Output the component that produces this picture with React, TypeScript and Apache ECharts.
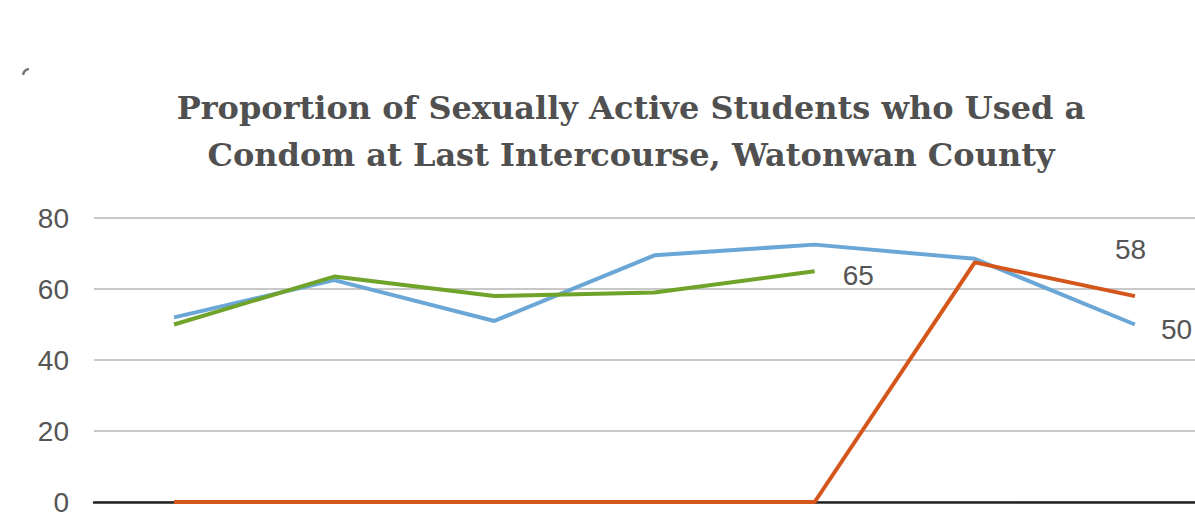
import React, { useEffect, useRef } from "react";
import * as echarts from "echarts";

const categories = ["1998", "2001", "2004", "2007", "2010", "2013", "2016"];
const blueValues = [52, 62.5, 51, 69.5, 72.5, 68.5, 50];
const greenValues: (number | null)[] = [50, 63.5, 58, 59, 65, null, null];
const orangeValues = [0, 0, 0, 0, 0, 67.5, 58];
const yTicks = { min: 0, max: 80, interval: 20 };
const titleLines = [
  "Proportion of Sexually Active Students who Used a",
  "Condom at Last Intercourse, Watonwan County",
];

const labelFont = "Liberation Sans, Arial, sans-serif";

export default function App() {
  const ref = useRef<HTMLDivElement>(null);
  useEffect(() => {
    if (!ref.current) return;
    const chart = echarts.init(ref.current, null, { renderer: "svg" });
    const endLabel = (offset: number[]) => ({
      show: true,
      formatter: (p: any) => String(p.value),
      color: "#555",
      fontSize: 28,
      fontFamily: labelFont,
      distance: 0,
      offset,
    });
    chart.setOption({
      animation: false,
      backgroundColor: "#ffffff",
      grid: { left: 94, right: 25, top: 218, height: 288, containLabel: false },
      graphic: [
        ...titleLines.map((t, i) => ({
          type: "text",
          x: 631,
          y: 108 + i * 47,
          style: {
            text: t,
            fill: "#505050",
            font: "bold 32px 'DejaVu Serif', serif",
            align: "center",
            verticalAlign: "middle",
            textAlign: "center",
            textVerticalAlign: "middle",
          },
        })),
        {
          type: "arc",
          shape: { cx: 30, cy: 76, r: 7, startAngle: Math.PI * 1.05, endAngle: Math.PI * 1.45 },
          style: { stroke: "#777", lineWidth: 2.5, fill: "none" },
        },
      ],
      xAxis: {
        type: "category",
        data: categories,
        boundaryGap: true,
        axisLine: { show: true, lineStyle: { color: "#222", width: 2.5 } },
        axisTick: { show: false },
        axisLabel: { show: false },
        splitLine: { show: false },
      },
      yAxis: {
        type: "value",
        min: yTicks.min,
        max: yTicks.max,
        interval: yTicks.interval,
        axisLine: { show: false },
        axisTick: { show: false },
        axisLabel: { color: "#555", fontSize: 28, fontFamily: labelFont, margin: 25 },
        splitLine: { lineStyle: { color: "#c8c8c8", width: 2 } },
      },
      series: [
        {
          name: "Blue",
          type: "line",
          data: blueValues,
          symbol: "none",
          lineStyle: { color: "#6BA7D6", width: 4 },
          itemStyle: { color: "#6BA7D6" },
          endLabel: endLabel([26, 5]),
          z: 3,
        },
        {
          name: "Green",
          type: "line",
          data: greenValues,
          symbol: "none",
          lineStyle: { color: "#70A32A", width: 4 },
          itemStyle: { color: "#70A32A" },
          endLabel: endLabel([28, 4]),
          z: 4,
        },
        {
          name: "Orange",
          type: "line",
          data: orangeValues,
          symbol: "none",
          lineStyle: { color: "#D4561A", width: 4 },
          itemStyle: { color: "#D4561A" },
          endLabel: endLabel([-20, -47]),
          z: 5,
        },
      ],
    });
    return () => chart.dispose();
  }, []);
  return (
    <div
      ref={ref}
      style={{ position: "fixed", left: 0, top: 0, width: 1240, height: 516 }}
    />
  );
}
